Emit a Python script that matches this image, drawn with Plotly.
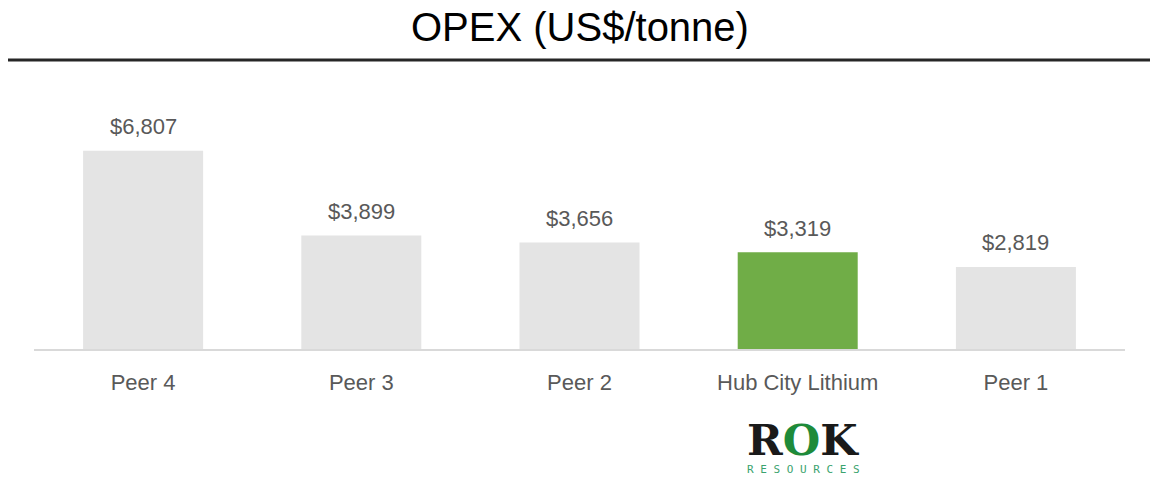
import plotly.graph_objects as go

categories = ["Peer 4", "Peer 3", "Peer 2", "Hub City Lithium", "Peer 1"]
values = [6807, 3899, 3656, 3319, 2819]
colors = ["#E4E4E4", "#E4E4E4", "#E4E4E4", "#70AD47", "#E4E4E4"]
value_labels = ["$6,807", "$3,899", "$3,656", "$3,319", "$2,819"]
title_text = "OPEX (US$/tonne)"

FONT = "Liberation Sans, Arial, sans-serif"
PLOT_H = 233
PLOT_W = 1091

fig = go.Figure()
fig.add_trace(go.Bar(
    x=categories, y=values, marker=dict(color=colors, line=dict(width=0)),
    hoverinfo="skip", showlegend=False,
))

for c, v, t in zip(categories, values, value_labels):
    fig.add_annotation(x=c, y=v, text=t, showarrow=False, yanchor="middle",
                       yshift=24, font=dict(family=FONT, size=22, color="#595959"))

# title
fig.add_annotation(x=0.5, y=(349 - 27) / PLOT_H, xref="paper", yref="paper",
                   text=title_text, showarrow=False, xanchor="center", yanchor="middle",
                   font=dict(family=FONT, size=40, color="#000000"))

# logo
logo_x = (803 - 34) / PLOT_W
fig.add_annotation(x=logo_x, y=(349 - 440) / PLOT_H, xref="paper", yref="paper",
                   text="<b>R<span style='color:#1E8B3A'>O</span>K</b>", showarrow=False,
                   xanchor="center", yanchor="middle",
                   font=dict(family="DejaVu Serif, serif", size=43, color="#1A1A1A"))
fig.add_annotation(x=logo_x, y=(349 - 469) / PLOT_H, xref="paper", yref="paper",
                   text="R E S O U R C E S", showarrow=False,
                   xanchor="center", yanchor="middle",
                   font=dict(family="DejaVu Sans Mono, monospace", size=11, color="#3AA36E"))

fig.update_layout(
    width=1150, height=471,
    margin=dict(l=26, r=33, t=108, b=130, pad=0),
    paper_bgcolor="white", plot_bgcolor="white",
    bargap=0.45,
    xaxis=dict(showgrid=False, showline=True, linecolor="#D9D9D9", linewidth=2,
               ticks="", tickfont=dict(family=FONT, size=22, color="#595959"),
               ticklabelstandoff=13, fixedrange=True),
    yaxis=dict(range=[0, 8000], visible=False, showgrid=False, zeroline=False),
    shapes=[dict(type="line", xref="paper", yref="paper",
                 x0=-29 / PLOT_W, x1=1121 / PLOT_W,
                 y0=(349 - 60) / PLOT_H, y1=(349 - 60) / PLOT_H,
                 line=dict(color="#262626", width=3))],
)

fig.write_html("out.html")
